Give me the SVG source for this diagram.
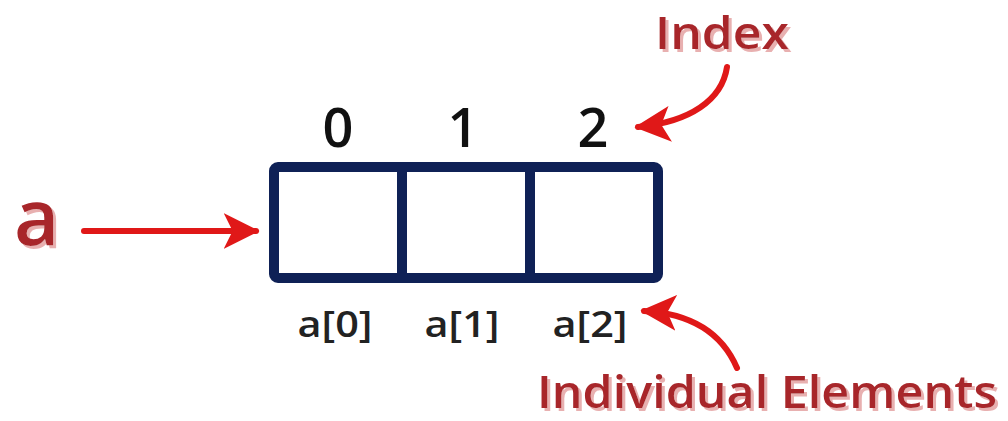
<svg xmlns="http://www.w3.org/2000/svg" width="1008" height="421" viewBox="0 0 1008 421">
<defs>
<style>
.lbl{font-family:"Open Sans","Liberation Sans",sans-serif;fill:#a8272b;font-weight:600;filter:url(#shadow)}
.idx{font-family:"Open Sans","Liberation Sans",sans-serif;font-size:54px;font-weight:600;fill:#111;text-anchor:middle}
.el{font-family:"Open Sans","Liberation Sans",sans-serif;font-size:36px;font-weight:600;fill:#222;text-anchor:middle}
.arr{fill:none;stroke:#e01818;stroke-width:6;stroke-linecap:round}
.cell{fill:#fff;stroke:#0f2156;stroke-width:10;stroke-linejoin:round}
</style>
<filter id="shadow" x="-10%" y="-20%" width="130%" height="150%">
<feFlood flood-color="#e8b0b0" result="c"/>
<feComposite in="c" in2="SourceAlpha" operator="in" result="s"/>
<feOffset in="s" dx="2.5" dy="3" result="o"/>
<feMerge><feMergeNode in="o"/><feMergeNode in="SourceGraphic"/></feMerge>
</filter>
<marker id="ah" viewBox="0 0 10 10" refX="9" refY="5" markerWidth="6" markerHeight="6" markerUnits="strokeWidth" orient="auto">
<path d="M0,0 L10,5 L0,10 L2.5,5 Z" fill="#e01818"/>
</marker>
</defs>
<rect width="1008" height="421" fill="#fff"/>
<g id="array">
<rect class="cell" x="274" y="167" width="384" height="111" rx="4"/>
<line x1="402" y1="167" x2="402" y2="278" stroke="#0f2156" stroke-width="10"/>
<line x1="530" y1="167" x2="530" y2="278" stroke="#0f2156" stroke-width="10"/>
</g>
<g id="indices">
<text class="idx" x="338" y="147">0</text>
<text class="idx" x="463" y="147">1</text>
<text class="idx" x="593" y="147">2</text>
</g>
<g id="elements">
<text class="el" x="335" y="337" textLength="75" lengthAdjust="spacingAndGlyphs">a[0]</text>
<text class="el" x="462" y="337" textLength="75" lengthAdjust="spacingAndGlyphs">a[1]</text>
<text class="el" x="590" y="337" textLength="75" lengthAdjust="spacingAndGlyphs">a[2]</text>
</g>
<g id="label-a">
<text class="lbl" x="14" y="245" font-size="78">a</text>
</g>
<g id="label-index">
<text class="lbl" x="655" y="49" font-size="46" textLength="134" lengthAdjust="spacingAndGlyphs">Index</text>
</g>
<g id="label-elements">
<text class="lbl" x="537" y="408" font-size="45" textLength="460" lengthAdjust="spacingAndGlyphs">Individual Elements</text>
</g>
<g id="connectors">
<path class="arr" d="M84,231 L256,231" marker-end="url(#ah)"/>
<path class="arr" d="M727,67 C722,100 690,122 638,127" marker-end="url(#ah)"/>
<path class="arr" d="M737,368 C725,340 700,314 644,311" marker-end="url(#ah)"/>
</g>
</svg>
